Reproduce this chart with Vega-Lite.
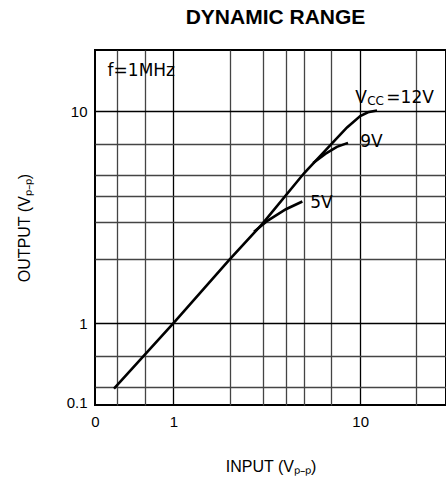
{
  "$schema": "https://vega.github.io/schema/vega-lite/v6.json",
  "autosize": "none",
  "width": 351,
  "height": 355,
  "padding": {"left": 95, "top": 50, "right": 0, "bottom": 78},
  "background": "white",
  "title": {"text": "DYNAMIC RANGE", "font": "Liberation Sans", "fontSize": 21, "fontWeight": "bold", "color": "black", "anchor": "middle", "offset": 22, "dx": 5},
  "config": {
    "view": {"stroke": "black", "strokeWidth": 2},
    "axis": {"labelFont": "Liberation Sans", "titleFont": "Liberation Sans", "labelColor": "black", "titleColor": "black", "titleFontWeight": "normal", "labelFontSize": 15, "titleFontSize": 16, "domain": false, "ticks": false}
  },
  "datasets": {
    "curves": [
      {"input": 0.48, "output": 0.49, "vcc": "12V"},
      {"input": 1, "output": 1, "vcc": "12V"},
      {"input": 2, "output": 2, "vcc": "12V"},
      {"input": 3, "output": 2.95, "vcc": "12V"},
      {"input": 5, "output": 5.1, "vcc": "12V"},
      {"input": 7, "output": 7, "vcc": "12V"},
      {"input": 8.5, "output": 8.4, "vcc": "12V"},
      {"input": 10, "output": 9.5, "vcc": "12V"},
      {"input": 11, "output": 9.9, "vcc": "12V"},
      {"input": 12.3, "output": 10.1, "vcc": "12V"},
      {"input": 5.6, "output": 5.7, "vcc": "9V"},
      {"input": 6.5, "output": 6.3, "vcc": "9V"},
      {"input": 7.5, "output": 6.8, "vcc": "9V"},
      {"input": 8.6, "output": 7.1, "vcc": "9V"},
      {"input": 2.7, "output": 2.7, "vcc": "5V"},
      {"input": 3.2, "output": 3.05, "vcc": "5V"},
      {"input": 4, "output": 3.45, "vcc": "5V"},
      {"input": 4.9, "output": 3.75, "vcc": "5V"}
    ],
    "labels": [
      {"input": 0.444, "output": 15.6, "text": "f=1MHz", "kind": "main"},
      {"input": 9.4, "output": 11.6, "text": "V", "kind": "main"},
      {"input": 10.9, "output": 11.15, "text": "CC", "kind": "sub"},
      {"input": 13.8, "output": 11.6, "text": "=12V", "kind": "main"},
      {"input": 10.0, "output": 7.2, "text": "9V", "kind": "main"},
      {"input": 5.4, "output": 3.7, "text": "5V", "kind": "main"}
    ]
  },
  "encoding": {
    "x": {"field": "input", "type": "quantitative",
      "scale": {"type": "log", "domain": [0.38, 28.8], "nice": false, "zero": false},
      "axis": {"title": "INPUT (Vₚ₋ₚ)", "values": [0.38, 0.5, 0.7, 1, 2, 3, 4, 5, 7, 10, 20],
        "labelExpr": "datum.value == 1 ? '1' : datum.value == 10 ? '10' : datum.value < 0.4 ? '0' : ''",
        "labelPadding": 9, "titlePadding": 29, "labelFlush": false, "labelOverlap": false,
        "grid": true, "gridColor": {"condition": {"test": "datum.value == 1 || datum.value == 10", "value": "black"}, "value": "#444"},
        "gridWidth": 1.3, "gridOpacity": {"condition": {"test": "datum.value < 0.4", "value": 0}, "value": 1}}},
    "y": {"field": "output", "type": "quantitative",
      "scale": {"type": "log", "domain": [0.41, 19.5], "nice": false, "zero": false},
      "axis": {"title": "OUTPUT (Vₚ₋ₚ)", "values": [0.42, 0.5, 0.7, 1, 2, 3, 4, 5, 7, 10],
        "labelExpr": "datum.value == 1 ? '1' : datum.value == 10 ? '10' : datum.value < 0.45 ? '0.1' : ''",
        "labelPadding": 8, "titlePadding": 34, "labelFlush": false, "labelOverlap": false,
        "grid": true, "gridColor": {"condition": {"test": "datum.value == 1 || datum.value == 10", "value": "black"}, "value": "#444"},
        "gridWidth": 1.3, "gridOpacity": {"condition": {"test": "datum.value < 0.45", "value": 0}, "value": 1}}}
  },
  "layer": [
    {"data": {"name": "curves"}, "mark": {"type": "line", "color": "black", "strokeWidth": 2.6},
      "encoding": {"detail": {"field": "vcc", "type": "nominal"}}},
    {"data": {"name": "labels"}, "transform": [{"filter": "datum.kind == 'main'"}],
      "mark": {"type": "text", "align": "left", "baseline": "middle", "font": "DejaVu Sans", "fontSize": 17, "color": "black"},
      "encoding": {"text": {"field": "text"}}},
    {"data": {"name": "labels"}, "transform": [{"filter": "datum.kind == 'sub'"}],
      "mark": {"type": "text", "align": "left", "baseline": "middle", "font": "DejaVu Sans", "fontSize": 12, "color": "black"},
      "encoding": {"text": {"field": "text"}}}
  ]
}
